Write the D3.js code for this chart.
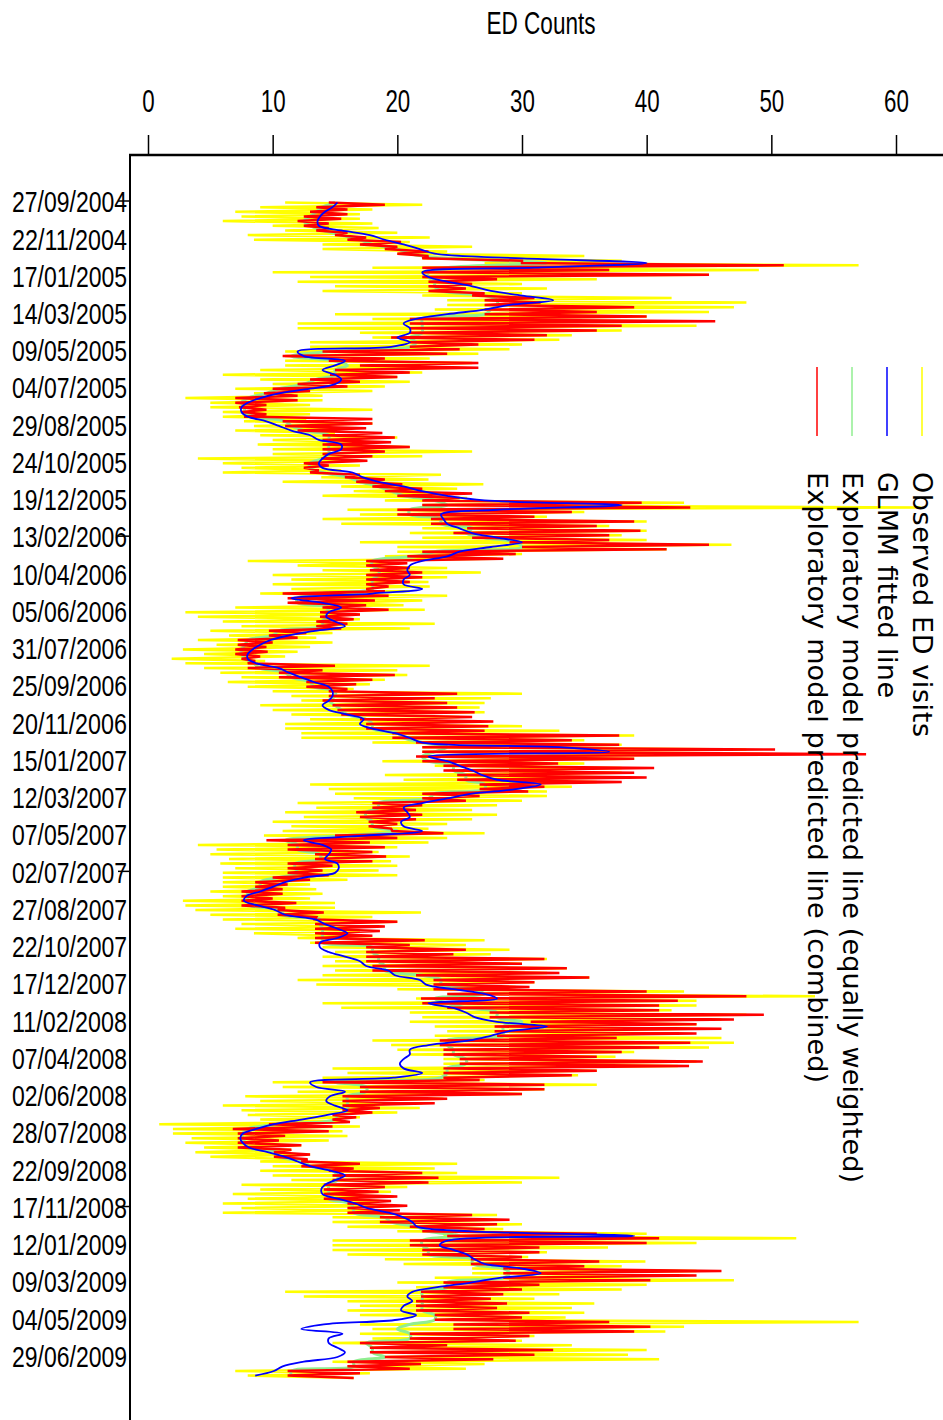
<!DOCTYPE html>
<html>
<head>
<meta charset="utf-8">
<script src="https://cdn.jsdelivr.net/npm/d3@7"></script>
<style>
  body { margin: 0; background: #fff; }
  svg { display: block; }
</style>
</head>
<body>
<div id="chart"></div>
<script>
var W = 943, H = 1420

// tick labels on the date axis (every 56 days)
var dateLabels = ['27/09/2004','22/11/2004','17/01/2005','14/03/2005','09/05/2005','04/07/2005',
  '29/08/2005','24/10/2005','19/12/2005','13/02/2006','10/04/2006','05/06/2006','31/07/2006',
  '25/09/2006','20/11/2006','15/01/2007','12/03/2007','07/05/2007','02/07/2007','27/08/2007',
  '22/10/2007','17/12/2007','11/02/2008','07/04/2008','02/06/2008','28/07/2008','22/09/2008',
  '17/11/2008','12/01/2009','09/03/2009','04/05/2009','29/06/2009']
var markedDates = ['27/09/2004','13/02/2006','02/07/2007','17/11/2008']
var countTicks = [0, 10, 20, 30, 40, 50, 60]
var seriesStart = '27/09/2004'

// observed ED visits, two readings a week (low, high), from 27/09/2004
var observed = [
  11,22, 9,18, 7,17, 7.5,17, 6,18, 10,18.5, 11,20, 8,22.6, 8.5,21, 14,26,
  14,24, 20,35, 22,38, 27,57, 18,49, 10,45, 13,36, 12,30, 15,32, 14,30,
  22,42, 24,48, 24,47, 23,45, 15,40, 18,40, 12,44, 12,38, 17,34, 18,33,
  13,30, 13,29, 11,26.5, 11,22.6, 11,26, 11,25, 9,22, 6,20, 9,21, 10,19,
  7,18, 8.5,14, 3,14, 5,13, 5,18, 6,13, 6,12.7, 7.7,18, 8.5,16.5, 7,15,
  9,20, 10,18.5, 8.8,21, 10,26, 10,22, 4,16.4, 6,17, 7.5,15.5, 6,23.5, 13.9,22.5,
  10.8,26.9, 15.5,24.8, 16.5,23.5, 14,25.6, 19,43, 22,62, 16,35, 17,32, 14,40, 15.5,37,
  22,40, 21,38, 22,40, 17,46.8, 20,41.6, 20,30, 19,28, 8,20, 12,24, 14,26.7,
  10,24, 11.5,22.5, 10,22.6, 11.5,21, 9,24, 13.5,22, 14.5,20.5, 7,22.2, 3,17, 4,17,
  6,23, 7.5,21, 5,14.8, 6.5,13.5, 4,14.8, 5.5,13, 2.8,12, 4.5,11, 1.9,9.4, 3,22.6,
  4.5,20, 5.8,20.8, 7.5,19, 6.4,17.8, 8,16.5, 10,30, 11.5,27.5, 12.3,27, 9,26.6, 10,27,
  11.5,25, 13,25.5, 11,30, 11,33, 12.3,39, 12.3,35, 18,38, 22,48, 22,50, 22,39,
  18.8,35, 23,38, 24.8,38, 19,38, 20.5,36, 13,34, 14.5,32, 15,32, 16.5,30, 12,28,
  13.5,26, 11,28, 12.5,26, 10,24, 11.5,22.5, 10.8,27, 9.3,24, 10.5,22.5, 4,20, 5.5,18.5,
  5,21, 6.5,19.5, 5.8,20, 7,18.5, 6,20, 6,16, 6,13, 6,13.5, 5,14, 6,13,
  2.8,15, 3,15, 3.8,21.9, 5,18, 6,20, 7.5,18.5, 7,17, 8.5,16, 12,27, 13,25.5,
  14,29, 15,27.5, 14,32, 15,30, 14,33.6, 15,32, 14,35.4, 12,31, 13.5,29.5, 20,43,
  25,53.5, 21.5,44, 14,44, 15.5,42, 21,48, 22,46, 21,44, 23,43.5, 24,42, 23,46,
  18,47, 19.5,45, 20,39, 21,37.5, 23.7,44, 23.7,42.5, 14.8,36, 16,34.5, 14,27, 10,36,
  10.8,31.8, 12,30, 7.8,23.7, 9,22, 6,21.8, 7.5,20, 8,17, 9,16, 0.9,17, 2,15.6,
  2,16, 3.5,14.5, 3,12.3, 4.5,11.5, 3.8,13, 5,12, 9,24.8, 10,23, 9,24.8, 10,33,
  11.5,30, 7.5,20.8, 9,19.5, 6.8,19.7, 8,18.5, 6,20, 7.5,19, 6,28, 14.8,28, 14.8,30,
  16,28.5, 20,40, 23.7,52, 14.8,44, 14.8,36.9, 14.8,32, 16,30.5, 19,39.9, 20.5,38, 26,44,
  26,42.5, 23,47, 20,40, 21.5,38, 11,33, 12.5,31, 16,35.8, 17,34, 16,35, 17,33.5,
  23,57, 17,43, 18,41.5, 17,31, 18,30, 14.8,34, 17.8,40, 18.5,38.5, 19,41, 14.8,27,
  16,25.5, 7,17.8, 8,16.5
]

// exploratory model, combined: two readings a week (low, high)
var combined = [
  14.5,19, 13.5,16, 13,16, 12.5,15.5, 12,14.5, 12.5,14.5, 13.5,16, 15,17.5, 16,20.3, 17,20,
  19,22.5, 20,22.5, 22,30, 30,51, 22,37, 22,45, 22,28, 22.5,26, 22.5,25.5, 22.5,27,
  26,31, 27,31.5, 27,39, 27,36, 27,40, 21,45.5, 21,38, 21,36, 21,32, 19.5,31,
  21,26.5, 21,25, 14,24, 10.8,19, 14.5,26.5, 17,26.5, 15,21, 14.6,20, 13,17, 12,16,
  10,13, 9.3,12, 7,12, 7,9.5, 7.3,9.5, 7.5,9.5, 7.7,18, 10.8,18, 11,17.5, 12,18.8,
  14,19.8, 14,19.5, 14,21, 14,19, 14,18, 13.9,17.6, 12.5,14.5, 12.5,13.7, 13,17, 15.8,19,
  16.7,20.4, 18,22, 19,26, 20,25, 22,39.6, 22,43.5, 20,34, 20,31, 22.7,39, 22.7,36,
  25.6,39.5, 24.5,37, 26,37, 29,45, 30,41.6, 22,29.5, 20.8,28.5, 17.5,20.8, 17.5,21, 17.8,22,
  17.5,22, 17.5,21, 17.5,19.3, 17.5,19, 10.8,19.3, 11.2,18.2, 11.2,17.5, 14,19.3, 13.8,17, 13.8,16.5,
  13.5,16, 13.5,15.5, 9.7,12.7, 9.7,12, 7.2,10, 7.2,9.5, 7,9.6, 7,9, 7.5,8.6, 8,15,
  8,14, 10.5,19.8, 10.5,18, 12.7,16.7, 12.7,16, 14.5,24.8, 14.5,23, 14,24, 14.8,24.8, 15.2,26.2,
  15.5,26, 17,27.7, 17.5,27.3, 17.5,27, 19.6,37.8, 19.6,34, 21.5,37.8, 22,50.3, 22,57.6, 21.5,39,
  22,32.9, 23.7,40.6, 23.7,39, 24.8,40, 24.8,38, 26.6,31.8, 26.6,30.5, 22,26.6, 22,25.5, 18,22,
  18,21.5, 16.7,22, 17,21.5, 17.7,20, 17.7,19.5, 19.6,23.7, 15,20, 9.5,17.8, 11.2,19, 11.2,18,
  13.4,19.1, 13.4,18, 11.2,14.8, 11.2,14, 11.2,14.5, 10,13, 8.6,11.2, 8.6,10.8, 7.5,10.8, 7.5,10,
  7.5,11.9, 7.5,11, 10.4,14.1, 10.4,13.5, 13.4,20, 13.4,19, 13.4,18.6, 13.4,18, 13.4,22.2, 13.4,21,
  17.5,25.5, 17.5,24.5, 17.5,31.8, 17.5,30, 18,33.6, 18,33, 21.5,35.4, 22.9,31, 22.9,30.6, 22.9,40,
  24,48, 21.9,42.5, 22,41, 24,41, 27.4,49.4, 27.4,47, 30.7,44, 27.8,46, 27.8,44, 28,37.6,
  23.4,43.5, 23.4,41, 23.7,38, 23.7,36, 25,44.5, 25,43.4, 23.7,36, 23.7,34, 23.7,26.6, 14,31.8,
  17,31.8, 17,30, 15.6,24, 15.6,23, 15.6,18.6, 15.6,18, 14.8,16.7, 14.8,16.2, 9.7,14.8, 6.8,14.5,
  7.2,11, 7.2,10.5, 7.2,12.3, 7.2,11.5, 10.1,13, 10.1,12.8, 12.3,17, 12.3,16.5, 14.5,22, 14.8,23.3,
  14.8,22.5, 14.1,19, 14.1,18.5, 14.1,20, 14.1,19.5, 16,20.8, 16,20.2, 16,26, 18.6,29, 18.6,28,
  21,27, 22,36, 24,41, 21,40, 21,31.4, 22,31.4, 22,30, 25.9,36.2, 25.9,35, 28.5,46,
  28.5,44, 28.5,40.3, 23.7,31.4, 23.7,30, 21.9,28.5, 21.9,27.5, 21.5,28.8, 21.5,28, 21.5,30.6, 23,30,
  23,37, 24.5,40.3, 24.5,39, 21,30.6, 21,29.5, 17,24, 17.8,32.5, 17.8,31, 19,27.7, 16,21.9,
  16,21, 11.2,17, 11.2,16.5
]

// exploratory model, equally weighted: weekly
var equally = [
  15, 14, 13.5, 13, 12.5, 13, 14, 15.5, 17, 18, 20, 21,
  24, 32, 24, 22.5, 22.5, 23, 23, 23.5,
  27, 28, 28, 27.5, 27, 22, 22, 22, 22, 21, 21.5, 21,
  14.5, 11.5, 15, 16, 15, 15, 13.5, 12.5, 10.5, 9.5, 8, 7.5, 7.7, 7.8,
  8.5, 11, 11.5, 12.5, 14.5, 14.5, 14.5, 14.5, 14.5, 14, 13, 13, 14, 16, 17, 18.5, 19.5, 20.5,
  23, 24, 21, 21, 23.5, 23.5, 26, 25.5, 27, 29.5, 30, 23, 21.5,
  18, 18, 18.5, 18.5, 18, 18, 18, 14, 12, 12, 14.5, 14.3, 14.3, 14, 14, 10.5, 10, 8, 7.8, 7.5, 7.5, 7.8,
  8.5, 9, 11, 11.5, 13, 13.3, 15, 15, 14.5, 15, 15.5, 16, 17.5, 18, 18, 20, 20.5, 22,
  24, 23, 22, 22.5, 24.5, 24.5, 25.5, 25.5, 27, 27, 23, 22.5, 18.5, 18.5, 17.5, 17.5, 18, 18, 20, 16,
  11, 12, 12, 13.8, 13.8, 11.8, 11.8, 12, 10.5, 9, 9, 8, 8, 8, 8.2, 10.8, 10.8, 13.8, 13.8, 14, 14, 14, 14, 18,
  18, 18.5, 18.5, 19, 19, 22, 23.5, 23.5, 26, 27, 23, 24, 25.5, 28, 28, 30, 28.5, 28.5, 28.5, 24,
  24, 24.5, 24.5, 25.5, 25.5, 24, 24, 23.5, 15, 17.5, 17.5, 16, 16, 16, 16, 15.2, 15, 10.5, 8, 7.6,
  7.6, 7.8, 8, 10.3, 10.5, 12.5, 13, 14.8, 15.2, 15.2, 14.5, 14.5, 14.5, 14.5, 16.2, 16.5, 16.5, 19, 19.5, 21.5,
  22.5, 25, 22, 22, 22.5, 22.5, 26, 26, 28.5, 29, 28.5, 24, 24, 22, 22, 22, 22, 22, 23, 23,
  21, 20, 21, 21, 17.5, 18, 18, 19, 16.5, 16.5, 11.5, 11.5
]

// GLMM fitted line: weekly
var glmm = [
  15.2, 14.8, 14.2, 13.8, 13.6, 13.7, 15.5, 17.8, 19, 20.5,
  21.8, 23, 30, 40, 31, 22, 22.5, 24, 26, 27.5,
  30, 32.5, 29, 27, 24, 21.5, 20.5, 21, 21, 20,
  21, 19.5, 12, 12.5, 15.8, 15, 14, 15, 15.5, 15,
  13, 10.5, 9, 8, 7.5, 7.5, 8, 9.5, 10.5, 11.5,
  13, 13.7, 15.5, 15.5, 14.5, 14, 13.7, 14, 16.4, 17.2,
  18.5, 20.5, 22, 24, 27, 38, 28, 23.5, 23.7, 24,
  25, 26, 28, 30, 27.5, 25, 24, 22, 21, 20.8,
  21, 20.5, 20.5, 22, 18, 11.5, 14, 15.5, 14.5, 14.3,
  15, 15.8, 13.4, 11.3, 9.8, 9, 8.4, 8, 8, 8.7,
  10.5, 11.3, 12.3, 13.3, 14.5, 14.8, 14.8, 14.5, 14, 14.5,
  16, 17.3, 17, 18, 19.8, 21, 22, 33, 37, 22.5,
  24, 25, 26, 26.8, 28, 31.5, 29.5, 26, 24, 22,
  20.5, 20.8, 21, 20.3, 20.5, 22, 17.4, 12.5, 14, 14.7,
  14.5, 14.2, 15.2, 15.3, 15, 12.5, 11, 10, 9, 7.9,
  7.7, 8.8, 10.2, 11, 13.4, 14.2, 15.2, 16, 15.2, 13.8,
  13.8, 14.5, 15.8, 17, 17.5, 19.3, 19.8, 21.8, 22.3, 24.5,
  27, 28, 22.5, 24.5, 25.5, 26.2, 28, 32, 29, 27.5,
  25.8, 22.5, 21, 21, 20.5, 20.2, 20.5, 22, 19.7, 13,
  13.5, 15.8, 14.6, 14.3, 15, 16, 14.4, 12.3, 10.1, 8.7,
  7.6, 7.4, 7.6, 8.1, 9.6, 11, 12, 13, 14.7, 15.8,
  15, 14.2, 13.9, 14, 15.2, 16.6, 17.6, 19.3, 20.5, 21.2,
  21.6, 26, 39, 24, 23.4, 24.5, 25.6, 26.2, 27, 30,
  31.5, 28.2, 25.9, 23.2, 21.2, 20.8, 21.2, 20.5, 20.3, 21.5,
  20, 14.1, 12.3, 15.6, 14.5, 14.5, 15.2, 15.8, 15.2, 12.5,
  10.8, 10.1, 8.6
]

var legendNames = ['Observed ED visits', 'GLMM fitted line',
  'Exploratory model predicted line (equally weighted)',
  'Exploratory model predicted line (combined)']
var legendColors = ['#ffff00', '#0000ff', '#90ee90', '#ff0000']

var parse = d3.utcParse('%d/%m/%Y')
var t0 = parse(seriesStart)
var DAY = 864e5

var x = d3.scaleLinear().domain([0, 60]).range([148, 896])
var y = d3.scaleUtc()
  .domain([parse(dateLabels[0]), parse(dateLabels[dateLabels.length - 1])])
  .range([202.5, 1357])

var svg = d3.select('#chart').append('svg')
  .attr('width', W).attr('height', H)
  .style('font-family', '"Liberation Sans", Arial, sans-serif')

svg.append('defs').append('clipPath').attr('id', 'plot')
  .append('rect').attr('x', 131).attr('y', 156).attr('width', W - 131).attr('height', H - 156)

function stepped(vals, step) {
  return vals.map(function(v, i) { return { d: new Date(+t0 + i * step * DAY), v: v } })
}

var sharp = d3.line().x(function(d) { return x(d.v) }).y(function(d) { return y(d.d) })
var smooth = d3.line().x(function(d) { return x(d.v) }).y(function(d) { return y(d.d) })
  .curve(d3.curveCatmullRom.alpha(0.5))

var plot = svg.append('g').attr('clip-path', 'url(#plot)')

plot.append('path').datum(stepped(observed, 3.5)).attr('d', sharp)
  .attr('fill', 'none').attr('stroke', '#ffff00').attr('stroke-width', 2.5)
plot.append('path').datum(stepped(equally, 7)).attr('d', smooth)
  .attr('fill', 'none').attr('stroke', '#90ee90').attr('stroke-width', 3)
plot.append('path').datum(stepped(combined, 3.5)).attr('d', sharp)
  .attr('fill', 'none').attr('stroke', '#ff0000').attr('stroke-width', 2.5)
plot.append('path').datum(stepped(glmm, 7)).attr('d', smooth)
  .attr('fill', 'none').attr('stroke', '#0000ff').attr('stroke-width', 1.8)

// top axis
var xAxis = svg.append('g').attr('transform', 'translate(0,155)')
  .call(d3.axisTop(x).tickValues(countTicks).tickSize(20).tickPadding(23))
xAxis.attr('font-family', null).attr('font-size', 31)
xAxis.select('.domain').remove()
xAxis.selectAll('.tick line').attr('stroke', '#000').attr('stroke-width', 1.5)
xAxis.selectAll('.tick text').attr('fill', '#000').each(function() {
  var w = this.getComputedTextLength()
  d3.select(this).attr('textLength', w * 0.72).attr('lengthAdjust', 'spacingAndGlyphs')
})

// left axis
var yAxis = svg.append('g').attr('transform', 'translate(127,0)')
  .call(d3.axisLeft(y).tickValues(dateLabels.map(parse)).tickSize(0).tickPadding(0)
    .tickFormat(d3.utcFormat('%d/%m/%Y')))
yAxis.attr('font-family', null).attr('font-size', 29)
yAxis.select('.domain').remove()
yAxis.selectAll('.tick text').attr('fill', '#000')
  .attr('textLength', 115).attr('lengthAdjust', 'spacingAndGlyphs')

svg.selectAll('.mark').data(markedDates).enter().append('line')
  .attr('x1', 118).attr('x2', 131)
  .attr('y1', function(d) { return y(parse(d)) - 1.5 })
  .attr('y2', function(d) { return y(parse(d)) - 1.5 })
  .attr('stroke', '#000').attr('stroke-width', 1.5)

svg.append('line').attr('x1', 129).attr('x2', W).attr('y1', 155).attr('y2', 155)
  .attr('stroke', '#000').attr('stroke-width', 2.5)
svg.append('line').attr('x1', 130).attr('x2', 130).attr('y1', 155).attr('y2', H)
  .attr('stroke', '#000').attr('stroke-width', 2)

svg.append('text').attr('x', 541).attr('y', 34).attr('text-anchor', 'middle')
  .attr('font-size', 31).attr('textLength', 109).attr('lengthAdjust', 'spacingAndGlyphs')
  .text('ED Counts')

// legend, rotated
var legendLen = [265, 226, 711, 611]
var legend = svg.append('g').style('font-family', '"DejaVu Sans", sans-serif')
legendNames.forEach(function(name, i) {
  var cx = 922 - 35 * i
  legend.append('line').attr('x1', cx).attr('x2', cx).attr('y1', 367).attr('y2', 436)
    .attr('stroke', legendColors[i]).attr('stroke-width', 1.5)
  legend.append('text').attr('transform', 'translate(' + (cx - 9.5) + ',472) rotate(90)')
    .attr('font-size', 27).attr('fill', '#000')
    .attr('textLength', legendLen[i]).attr('lengthAdjust', 'spacing')
    .text(name)
})
</script>
</body>
</html>
